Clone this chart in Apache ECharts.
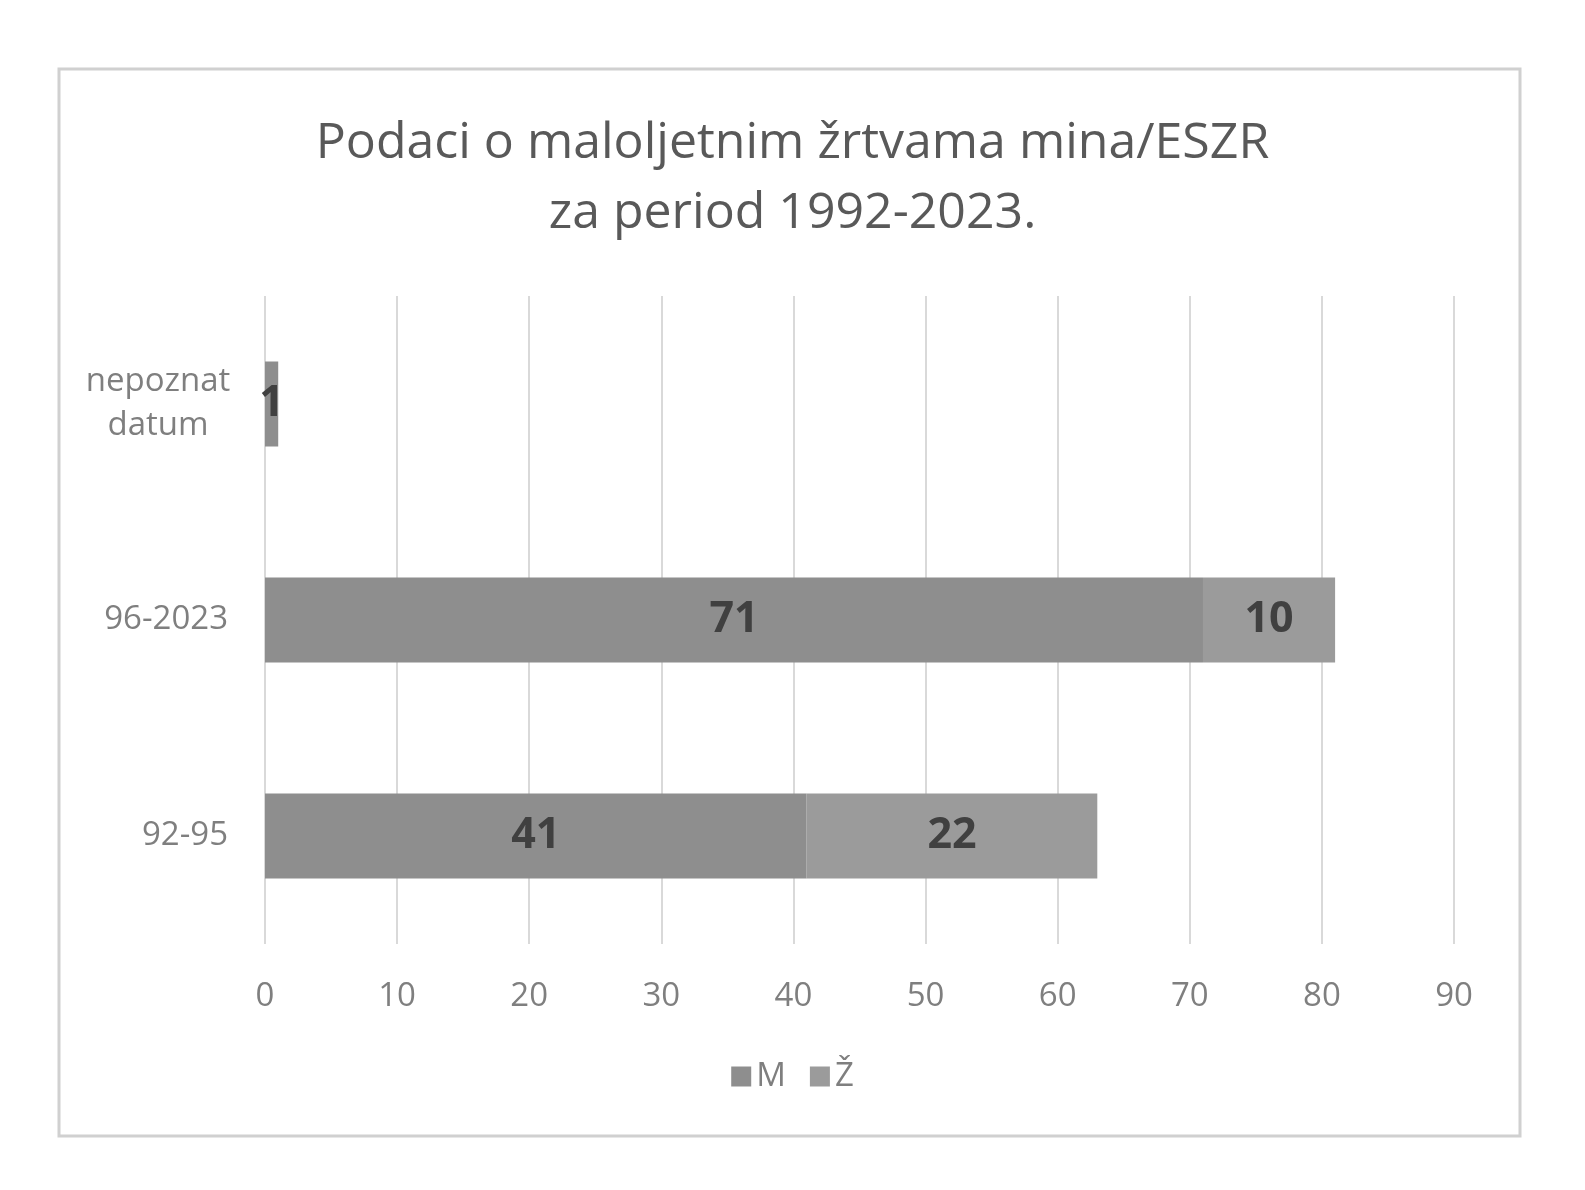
<!DOCTYPE html>
<html>
<head>
<meta charset="utf-8">
<script src="https://cdn.jsdelivr.net/npm/echarts@6/dist/echarts.min.js"></script>
<style>html,body{margin:0;padding:0;background:#fff;}#c{width:1585px;height:1190px;}</style>
</head>
<body>
<div id="c"></div>
<script>
const categories = ['92-95', '96-2023', 'nepoznat\ndatum'];
const seriesM = [41, 71, 1];
const seriesZ = [22, 10, null];
const seriesNames = ['M', 'Ž'];
const xTicks = { min: 0, max: 90, interval: 10 };

const chart = echarts.init(document.getElementById('c'));
const font = '"Open Sans", "Liberation Sans", sans-serif';
const labelStyle = { show: true, position: 'inside', color: '#404040', fontSize: 43, fontWeight: 'bold', fontFamily: font,
  formatter: p => (p.value == null ? '' : p.value) };
chart.setOption({
  backgroundColor: '#fff',
  animation: false,
  title: {
    text: 'Podaci o maloljetnim žrtvama mina/ESZR\nza period 1992-2023.',
    left: 'center', top: 104,
    textStyle: { color: '#595959', fontSize: 50, fontWeight: 'normal', fontFamily: font, lineHeight: 70 }
  },
  graphic: [{
    type: 'rect', shape: { x: 59, y: 69, width: 1461, height: 1067 },
    style: { fill: 'none', stroke: '#d0d0d0', lineWidth: 3 }, silent: true, z: -1
  }],
  legend: {
    bottom: 92, left: 'center', itemWidth: 20, itemHeight: 20, itemGap: 24,
    icon: 'rect',
    textStyle: { color: '#7f7f7f', fontSize: 33, fontFamily: font },
    data: seriesNames
  },
  grid: { left: 265, right: 131, top: 296, bottom: 246 },
  xAxis: {
    type: 'value', min: xTicks.min, max: xTicks.max, interval: xTicks.interval,
    axisLine: { show: false }, axisTick: { show: false },
    splitLine: { lineStyle: { color: '#d9d9d9', width: 2 } },
    axisLabel: { color: '#7f7f7f', fontSize: 33, fontFamily: font, margin: 36 }
  },
  yAxis: {
    type: 'category', data: categories,
    axisLine: { show: false }, axisTick: { show: false },
    axisLabel: { color: '#7f7f7f', fontSize: 33, fontFamily: font, margin: 37, lineHeight: 44,
      formatter: v => v.indexOf('\n') >= 0 ? v.split('\n').map(s => '{c|' + s + '}').join('\n') : v,
      rich: { c: { width: 140, align: 'center', fontSize: 33, color: '#7f7f7f', fontFamily: font, lineHeight: 44 } }
    }
  },
  series: [
    { name: seriesNames[0], type: 'bar', stack: 's', data: seriesM, barWidth: 85,
      itemStyle: { color: '#8e8e8e' }, label: labelStyle },
    { name: seriesNames[1], type: 'bar', stack: 's', data: seriesZ, barWidth: 85,
      itemStyle: { color: '#9b9b9b' }, label: labelStyle }
  ]
});
</script>
</body>
</html>
